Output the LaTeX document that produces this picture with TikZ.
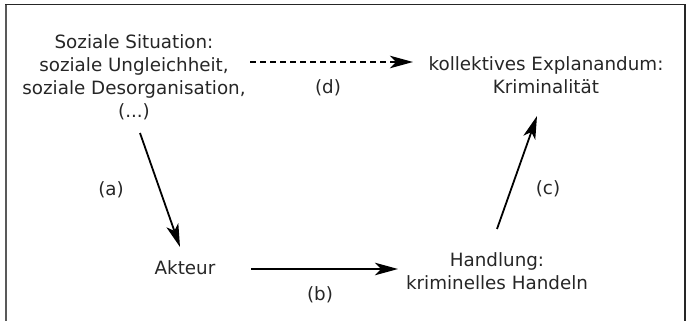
\documentclass[tikz,border=0pt]{standalone}
\usepackage{fontspec}
\setmainfont{DejaVu Sans}
\usetikzlibrary{arrows.meta}
\begin{document}
\begin{tikzpicture}[x=1pt,y=-1pt,
  lbl/.style={font=\fontsize{18.3}{23}\selectfont, align=center, inner sep=0pt, text=black!85},
  conn/.style={line width=1.8pt, -{Stealth[length=23pt,width=12.5pt,inset=6pt]}},
  dconn/.style={conn, dash pattern=on 6pt off 4pt}]
\useasboundingbox (0,0) rectangle (689,321);
\draw[black!65, line width=2pt] (6,4.5) -- (6,321);
\draw[black!85, line width=1.3pt] (5,4.5) -- (685,4.5) -- (685,321);
\node[lbl] (sit) at (134,77) {Soziale Situation:\\soziale Ungleichheit,\\soziale Desorganisation,\\(...)};
\node[lbl] (expl) at (546,75.5) {kollektives Explanandum:\\Kriminalität};
\node[lbl] (akt) at (185,268) {Akteur};
\node[lbl] (hand) at (497,271.5) {Handlung:\\kriminelles Handeln};
\coordinate (aS) at (140,133);
\coordinate (aE) at (180,247);
\coordinate (bS) at (251,269);
\coordinate (bE) at (398,269);
\coordinate (cS) at (497,229);
\coordinate (cE) at (537,116);
\coordinate (dS) at (250,62);
\coordinate (dE) at (413,62);
\draw[conn] (aS) -- (aE);
\draw[conn] (bS) -- (bE);
\draw[conn] (cS) -- (cE);
\draw[dconn] (dS) -- (dE);
\node[lbl] (la) at (111,190) {(a)};
\node[lbl] (lb) at (320,295) {(b)};
\node[lbl] (lc) at (548,189) {(c)};
\node[lbl] (ld) at (328,88) {(d)};
\end{tikzpicture}
\end{document}
